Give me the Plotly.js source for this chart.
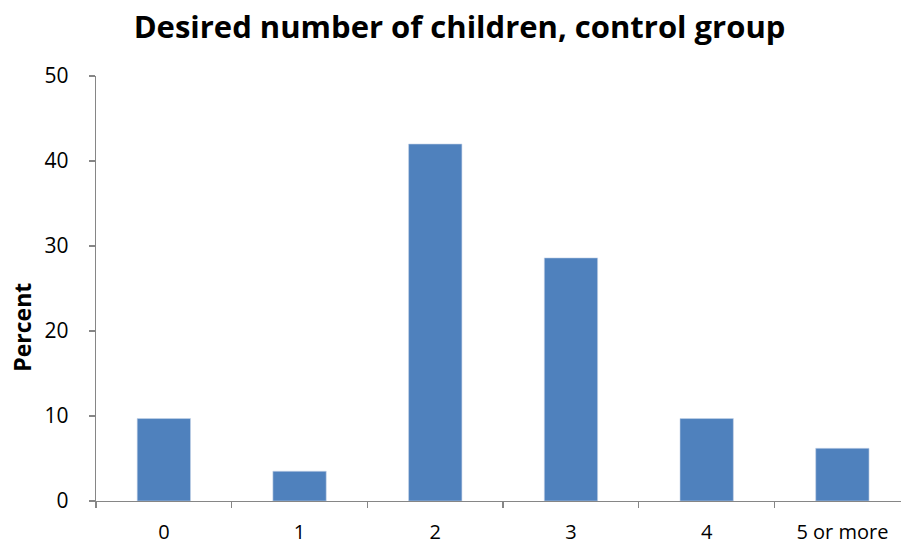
<!DOCTYPE html>
<html>
<head>
<meta charset="utf-8">
<script src="https://cdn.plot.ly/plotly-3.0.1.min.js"></script>
<style>
  html, body { margin: 0; padding: 0; background: #ffffff; }
  #chart { width: 901px; height: 547px; }
</style>
</head>
<body>
<div id="chart"></div>
<script>
// Desired number of children (control group), share of respondents in percent
const categories = ["0", "1", "2", "3", "4", "5 or more"];
const percentValues = [9.7, 3.5, 42.0, 28.6, 9.7, 6.2];
const yTickValues = [0, 10, 20, 30, 40, 50];

const font = "Open Sans, Liberation Sans, sans-serif";
const axisGrey = "#868686";

const trace = {
  type: "bar",
  x: categories,
  y: percentValues,
  width: 0.393,
  marker: { color: "#4f81bd", line: { color: "#c6d4e8", width: 0.6 } },
  hoverinfo: "x+y"
};

const layout = {
  width: 901,
  height: 547,
  margin: { l: 96, r: 0, t: 76, b: 46 },
  paper_bgcolor: "#ffffff",
  plot_bgcolor: "#ffffff",
  showlegend: false,
  title: {
    text: "<b>Desired number of children, control group</b>",
    font: { family: font, size: 31, color: "#000000" },
    x: 0.51, xanchor: "center",
    y: 0.95, yanchor: "middle"
  },
  xaxis: {
    type: "category",
    range: [-0.5, 5.432],
    showline: true,
    linecolor: axisGrey,
    linewidth: 1.3,
    ticks: "outside",
    tickson: "boundaries",
    ticklen: 6,
    tickcolor: axisGrey,
    tickwidth: 1.3,
    showgrid: false,
    zeroline: false,
    tickfont: { family: font, size: 20, color: "#000000" },
    ticklabelstandoff: 13
  },
  yaxis: {
    range: [0, 50],
    tickvals: yTickValues,
    ticktext: yTickValues.map(String),
    showline: true,
    linecolor: axisGrey,
    linewidth: 1.3,
    ticks: "outside",
    ticklen: 6,
    tickcolor: axisGrey,
    tickwidth: 1.3,
    showgrid: false,
    zeroline: false,
    tickfont: { family: font, size: 21, color: "#000000" },
    ticklabelstandoff: 16
  },
  annotations: [{
    text: "<b>Percent</b>",
    xref: "paper", yref: "paper",
    x: -0.092, y: 0.41,
    xanchor: "center", yanchor: "middle",
    textangle: -90,
    showarrow: false,
    font: { family: font, size: 23, color: "#000000" }
  }]
};

Plotly.newPlot("chart", [trace], layout, { staticPlot: true, displayModeBar: false });
</script>
</body>
</html>
